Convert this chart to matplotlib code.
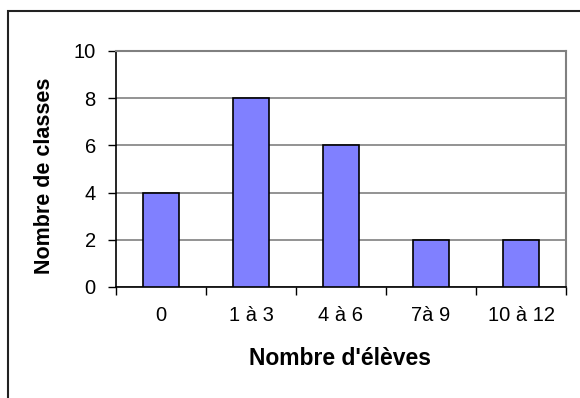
import matplotlib
matplotlib.use("Agg")
import matplotlib.pyplot as plt
from matplotlib.patches import Rectangle

categories = ["0", "1 à 3", "4 à 6", "7à 9", "10 à 12"]
classes = [4, 8, 6, 2, 2]
y_ticks = [0, 2, 4, 6, 8, 10]

plt.rcParams["font.family"] = ["Liberation Sans", "DejaVu Sans"]

W, H = 580, 398
fig = plt.figure(figsize=(W / 100, H / 100), dpi=100)

# chart-area frame, running off the right and bottom edges
fig.patches.append(Rectangle((8 / W, -0.1), 1.2, 1.1 - 11 / H, transform=fig.transFigure,
                             fill=False, edgecolor="#222222", linewidth=1.5))

left, right, top, bottom = 116, 566, 51, 287
ax = fig.add_axes([left / W, 1 - bottom / H, (right - left) / W, (bottom - top) / H])

x = list(range(len(categories)))
ax.bar(x, classes, width=0.4, color="#8080FF", edgecolor="black", linewidth=1.2, zorder=3)

ax.set_xlim(-0.5, len(categories) - 0.5)
ax.set_ylim(0, 10)
ax.set_yticks(y_ticks)
ax.yaxis.grid(True, color="#808080", linewidth=1.2, zorder=0)
ax.set_axisbelow(True)

# boundary ticks between categories, labels centred under each bar
ax.set_xticks([i - 0.5 for i in range(len(categories) + 1)])
ax.set_xticklabels([])
ax.set_xticks(x, minor=True)
ax.set_xticklabels(categories, minor=True, fontsize=14.5)
ax.tick_params(axis="x", which="major", direction="out", length=6, width=1, color="black")
ax.tick_params(axis="x", which="minor", length=0, pad=13.5)
ax.tick_params(axis="y", direction="out", length=6, width=1, labelsize=14.5, pad=8.5)

for s in ("top", "right"):
    ax.spines[s].set_color("#808080")
    ax.spines[s].set_linewidth(1.5)
for s in ("left", "bottom"):
    ax.spines[s].set_color("black")
    ax.spines[s].set_linewidth(1.2)

fig.text(340 / W, 1 - 365 / H, "Nombre d'élèves", ha="center", va="baseline",
         fontsize=16.5, fontweight="bold")
fig.text(45 / W, 1 - 176 / H, "Nombre de classes", ha="center", va="center",
         rotation=90, fontsize=15.5, fontweight="bold")

fig.savefig("out.png", dpi=100)
